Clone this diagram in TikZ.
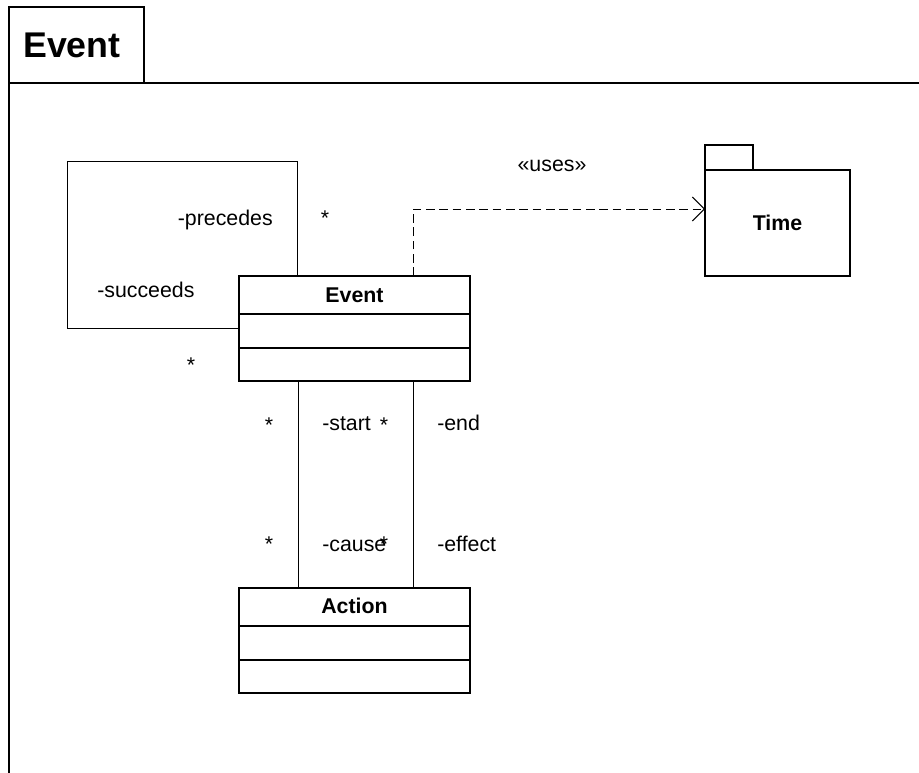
\documentclass[tikz,border=0pt]{standalone}
\usepackage{fontspec}
\setmainfont{Liberation Sans}
\usetikzlibrary{calc,arrows.meta}
\begin{document}
\begin{tikzpicture}[x=0.75pt,y=-0.75pt,
  frameline/.style={line width=1.1pt},
  classbox/.style={draw,line width=1.3pt,minimum width=173.25pt,minimum height=78.75pt,inner sep=0pt,outer sep=0pt},
  pkgbox/.style={draw,line width=1.1pt,inner sep=0pt,outer sep=0pt},
  assoc/.style={line width=0.75pt},
  lbl/.style={font=\fontsize{16}{19}\selectfont,inner sep=0pt,anchor=base},
  lblw/.style={lbl,anchor=base west},
  lble/.style={lbl,anchor=base east},
  cname/.style={lbl,font=\fontsize{16}{19}\selectfont\bfseries}]
\useasboundingbox (0,0) rectangle (919,772);
\begin{scope}
\clip (0,0) rectangle (919,772);
% frame
\node[pkgbox,frameline,minimum width=101.25pt,minimum height=57pt] (tab) at (76.5,45) {};
\node[lbl,anchor=base west,font=\fontsize{26.8}{30}\selectfont\bfseries] (title) at (23,57) {Event};
\coordinate (frTL) at (9,83);
\coordinate (frTR) at (919,83);
\coordinate (frBL) at (9,775);
\draw[frameline] (frTR) -- (frTL) -- (frBL);
% Event class
\node[classbox] (ev) at (354.5,328.5) {};
\draw[line width=1.3pt] ($(ev.north west)+(0,38)$) -- ($(ev.north east)+(0,38)$);
\draw[line width=1.3pt] ($(ev.north west)+(0,72)$) -- ($(ev.north east)+(0,72)$);
\node[cname] (evname) at (354.5,302) {Event};
% Action class
\node[classbox] (act) at (354.5,640.5) {};
\draw[line width=1.3pt] ($(act.north west)+(0,38)$) -- ($(act.north east)+(0,38)$);
\draw[line width=1.3pt] ($(act.north west)+(0,72)$) -- ($(act.north east)+(0,72)$);
\node[cname] (actname) at (354.5,613) {Action};
% Time package
\node[pkgbox,minimum width=36pt,minimum height=18.75pt] (timetab) at (729,157.5) {};
\node[pkgbox,minimum width=108.75pt,minimum height=79.5pt] (time) at (777.5,223) {};
\node[cname] (timename) at (777.5,230) {Time};
% self association
\coordinate (loopTL) at (67,161);
\draw[assoc] ($(ev.north west)+(58,0)$) |- (loopTL) |- ($(ev.north west)+(0,52)$);
\node[lble] (prec) at (273,225) {-precedes};
\node[lbl] (precstar) at (325,225) {*};
\node[lblw] (succ) at (97,297) {-succeeds};
\node[lbl] (succstar) at (191,372) {*};
% uses dependency
\draw[assoc,dash pattern=on 6.5pt off 3.5pt,-{Straight Barb[length=9pt,width=18pt,line width=0.75pt]}]
  ($(ev.north west)+(174,0)$) |- ($(time.north west)+(0,39)$);
\node[lbl] (uses) at (552,171) {«uses»};
% start/end and cause/effect associations
\draw[assoc] ($(ev.south west)+(59,0)$) -- ($(act.north west)+(59,0)$);
\draw[assoc] ($(ev.south west)+(174,0)$) -- ($(act.north west)+(174,0)$);
\node[lbl] (s1) at (269,432) {*};
\node[lblw] (start) at (322,430) {-start};
\node[lbl] (s2) at (384,432) {*};
\node[lblw] (endl) at (437,430) {-end};
\node[lbl] (s3) at (269,551) {*};
\node[lblw] (cause) at (322,551) {-cause};
\node[lbl] (s4) at (384,551) {*};
\node[lblw] (effect) at (437,551) {-effect};
\end{scope}
\end{tikzpicture}
\end{document}
